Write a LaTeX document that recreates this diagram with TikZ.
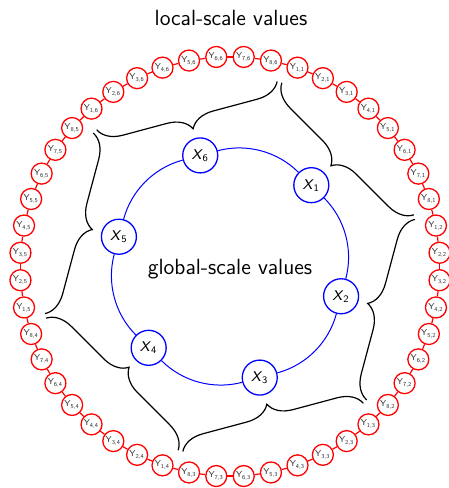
\documentclass[tikz,border=0pt]{standalone}
\usetikzlibrary{decorations.pathreplacing}
\begin{document}
\begin{tikzpicture}[x=0.5pt,y=0.5pt, font=\sffamily,
  ynode/.style={circle, draw=red, line width=0.65pt, fill=white, minimum size=10.5pt, inner sep=0pt, text=black!80, font=\sffamily\fontsize{4.3}{5}\selectfont},
  xnode/.style={circle, draw=blue, line width=0.65pt, fill=white, minimum size=17.5pt, inner sep=0pt, font=\sffamily\fontsize{7}{8}\selectfont},
  bracestyle/.style={decorate, decoration={brace, amplitude=12pt}, line width=0.6pt},
  ylink/.style={red, line width=0.6pt},
  xlink/.style={blue, line width=0.5pt},
  bigtext/.style={font=\sffamily\fontsize{11}{13}\selectfont}]
\useasboundingbox (-230,-221.5) rectangle (219,266.5);
\node[bigtext] (title) at (1,248.5) {local-scale values};
\node[bigtext] (global) at (0,-2.5) {global-scale values};
\foreach \i in {1,...,6} {
  \pgfmathsetmacro\a{45-60*(\i-1)}
  \node[xnode] (X\i) at (\a:115) {\textit{X}\textsubscript{\i}};
  \foreach \j in {1,...,8} {
    \pgfmathsetmacro\b{\a+26.25-7.5*(\j-1)}
    \node[ynode] (Y-\j-\i) at (\b:210) {Y\textsubscript{\j,\i}};
  }
  \draw[bracestyle] ({\a-29.3}:191) -- ({\a+29.3}:191);
}
\foreach \i in {1,...,6} {
  \foreach \j [evaluate=\j as \jn using int(\j+1)] in {1,...,7} {
    \draw[ylink] (Y-\j-\i) -- (Y-\jn-\i);
  }
}
\foreach \i/\n in {1/2,2/3,3/4,4/5,5/6,6/1} {
  \draw[ylink] (Y-8-\i) -- (Y-1-\n);
  \draw[xlink] (X\i) to[bend left=30, looseness=0.91] (X\n);
}
\end{tikzpicture}
\end{document}
